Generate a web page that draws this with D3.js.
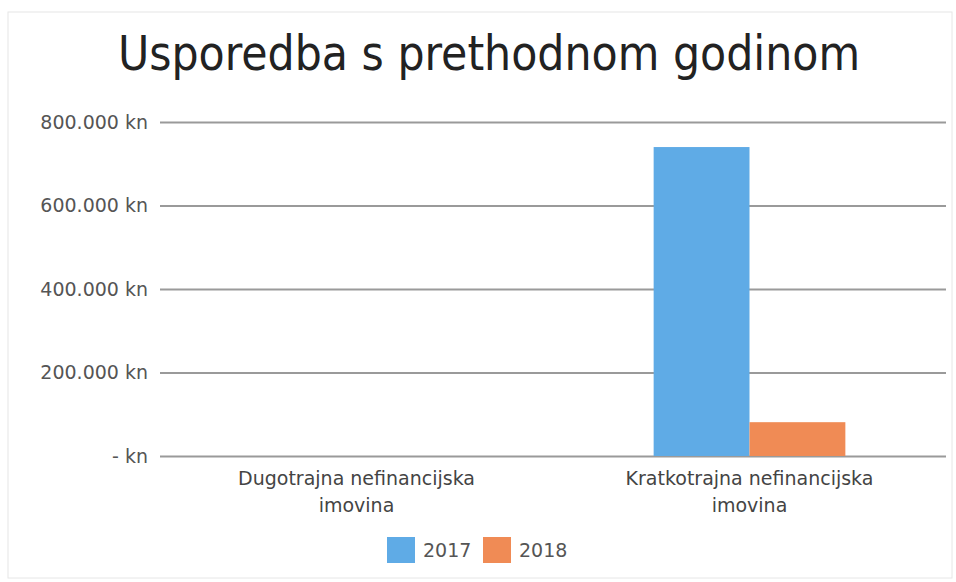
<!DOCTYPE html>
<html><head><meta charset="utf-8">
<script src="https://cdn.jsdelivr.net/npm/d3@7"></script>
<style>body{margin:0;background:#fff}svg{display:block}</style>
</head><body>
<svg id="c" width="956" height="582"></svg>
<script>
const title = "Usporedba s prethodnom godinom";
const categories = [["Dugotrajna nefinancijska","imovina"],["Kratkotrajna nefinancijska","imovina"]];
const series = ["2017","2018"];
const values2017 = [0, 740000];
const values2018 = [0, 81000];
const yTicks = [0, 200000, 400000, 600000, 800000];
const colors = ["#5fabe6","#f08b55"];

const svg = d3.select("#c");
const font = "'DejaVu Sans', sans-serif";
const fontC = "'DejaVu Sans Condensed', 'DejaVu Sans', sans-serif";
svg.append("rect").attr("x",8).attr("y",12).attr("width",944).attr("height",566)
  .attr("fill","#fff").attr("stroke","#e6e6e6");

const m = {l:160, r:946};
const y = d3.scaleLinear().domain([0,800000]).range([456,122]);
const x0 = d3.scaleBand().domain(d3.range(categories.length)).range([m.l,m.r]);
const x1 = d3.scaleBand().domain(series).range([0,x0.bandwidth()]).paddingInner(0).paddingOuter(1.05);

svg.append("text").attr("x",489).attr("y",70).attr("text-anchor","middle")
  .attr("font-family",fontC).attr("font-size",47.5).attr("fill","#222").text(title);

const fmt = v => v===0 ? "- kn" : d3.format(",")(v).replace(/,/g,".")+" kn";
const yAxis = svg.append("g").attr("transform",`translate(${m.l},0)`)
  .call(d3.axisLeft(y).tickValues(yTicks).tickSize(-(m.r-m.l)).tickFormat(fmt).tickPadding(12));
yAxis.select(".domain").remove();
yAxis.selectAll(".tick line").attr("stroke","#9a9a9a").attr("stroke-width",2);
yAxis.selectAll(".tick text").attr("font-family",font).attr("font-size",19).attr("fill","#555");

const data = [values2017, values2018];
const g = svg.append("g");
categories.forEach((c,i)=>{
  series.forEach((s,j)=>{
    const v = data[j][i];
    g.append("rect").attr("x",x0(i)+x1(s)).attr("width",x1.bandwidth())
      .attr("y",y(v)).attr("height",y(0)-y(v)).attr("fill",colors[j]);
  });
  const t = svg.append("text").attr("text-anchor","middle").attr("font-family",font)
    .attr("font-size",19).attr("fill","#444");
  c.forEach((line,k)=>t.append("tspan").attr("x",x0(i)+x0.bandwidth()/2).attr("y",485+k*27).text(line));
});

const leg = svg.append("g");
const lx = [387, 483];
series.forEach((s,j)=>{
  leg.append("rect").attr("x",lx[j]).attr("y",537).attr("width",28).attr("height",26).attr("fill",colors[j]);
  leg.append("text").attr("x",lx[j]+36).attr("y",557).attr("font-family",font).attr("font-size",19)
    .attr("fill","#555").text(s);
});
</script>
</body></html>
